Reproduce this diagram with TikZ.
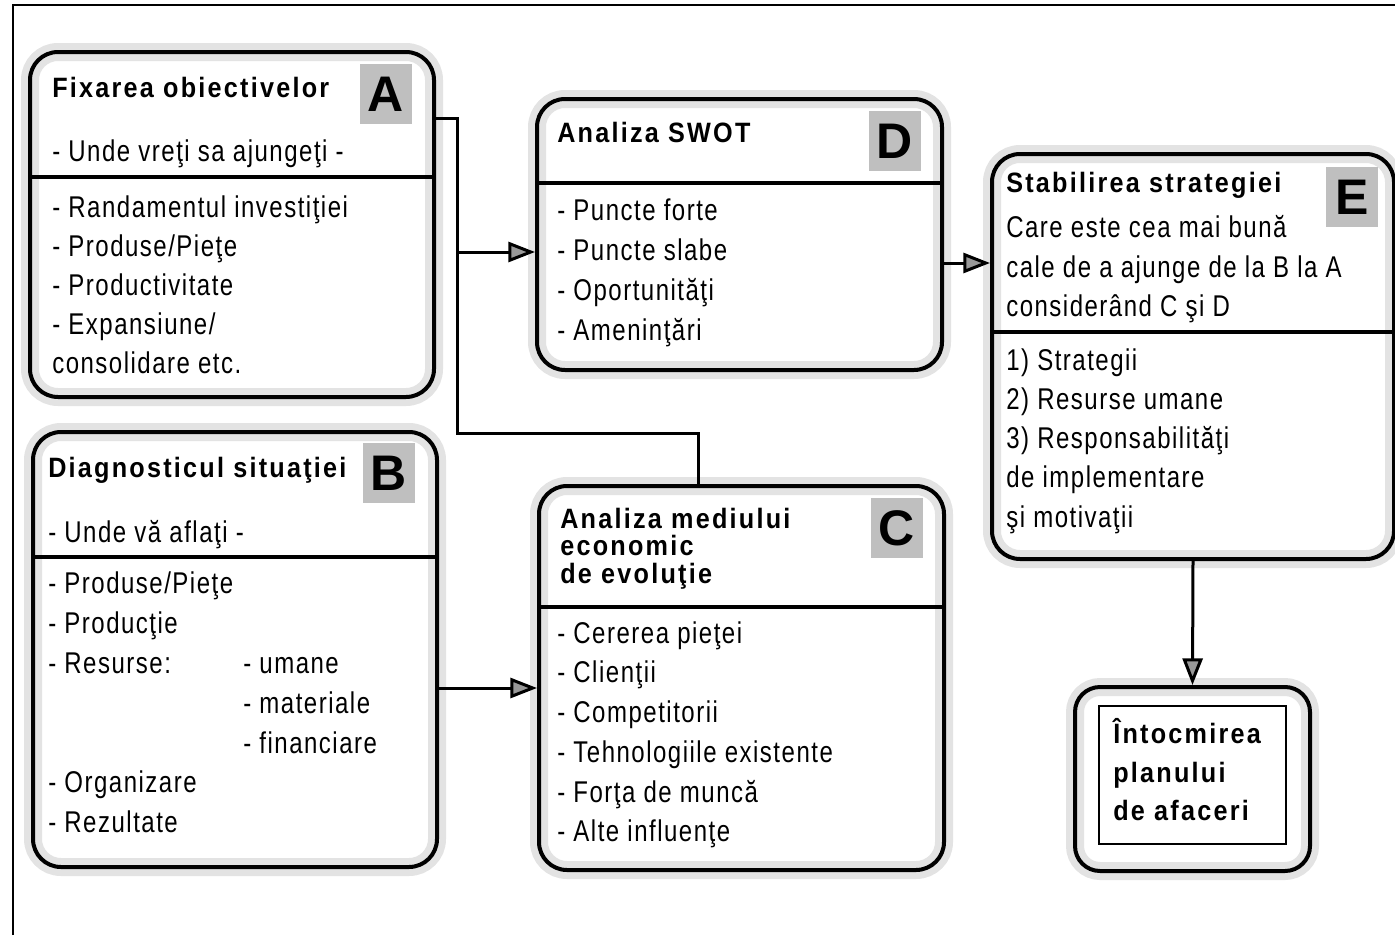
\documentclass[tikz,border=0pt]{standalone}
\usepackage{fontspec}
\setmainfont{Liberation Sans}
\newfontfamily\bodyf[LetterSpace=5,FakeStretch=0.8]{Liberation Sans}
\newfontfamily\titlef[LetterSpace=8,FakeStretch=0.9]{Liberation Sans}
\usetikzlibrary{arrows.meta}
\newcommand\pxu{0.75pt}
\tikzset{
  box/.style={draw, line width=4*\pxu, rounded corners=28*\pxu, anchor=north west, inner sep=0pt,
    preaction={draw=black!11, line width=18*\pxu}},
  tx/.style={anchor=base west, inner sep=0pt, font=\bodyf\fontsize{22.5pt}{24pt}\selectfont},
  ttl/.style={anchor=base west, inner sep=0pt, font=\titlef\bfseries\fontsize{21pt}{22pt}\selectfont},
  letterbox/.style={fill=black!25, minimum width=52*\pxu, minimum height=60*\pxu, inner sep=0pt,
    font=\bfseries\fontsize{37.5pt}{40pt}\selectfont},
  divider/.style={line width=3.5*\pxu},
  conn/.style={line width=3*\pxu},
  arr/.style={conn, -{Triangle[length=20pt, width=15pt, fill=black!40]}}
}
\begin{document}
\begin{tikzpicture}[x=0.75pt,y=-0.75pt]
\useasboundingbox (0,0) rectangle (1395,935);
% outer frame
\draw[line width=2.5*\pxu] (13,935) -- (13,5) -- (1395,5);

% boxes
\node[box, minimum width=404*\pxu, minimum height=345*\pxu] (A) at (28,50) {};
\node[box, minimum width=405*\pxu, minimum height=271*\pxu] (D) at (535,97) {};
\node[box, minimum width=402*\pxu, minimum height=405*\pxu] (E) at (990,152) {};
\node[box, minimum width=404*\pxu, minimum height=435*\pxu] (B) at (31,430) {};
\node[box, minimum width=405*\pxu, minimum height=384*\pxu] (C) at (537,484) {};
\node[box, rounded corners=25*\pxu, minimum width=235*\pxu, minimum height=184*\pxu] (F) at (1073,685) {};
\node[draw, line width=2*\pxu, minimum width=187*\pxu, minimum height=138*\pxu, anchor=north west, inner sep=0pt] (Fi) at (1098,705) {};

% dividers
\draw[divider] (A.west |- 0,177) -- (A.east |- 0,177);
\draw[divider] (D.west |- 0,183) -- (D.east |- 0,183);
\draw[divider] (E.west |- 0,332) -- (E.east |- 0,332);
\draw[divider] (B.west |- 0,557) -- (B.east |- 0,557);
\draw[divider] (C.west |- 0,607) -- (C.east |- 0,607);

% letters
\node[letterbox] (Al) at (386,94) {A};
\node[letterbox] (Bl) at (389,473) {B};
\node[letterbox] (Cl) at (897,528) {C};
\node[letterbox] (Dl) at (895,141) {D};
\node[letterbox] (El) at (1352,197) {E};

% box A
\node[ttl] (At) at (52,97) {Fixarea obiectivelor};
\node[tx] (A0) at (52,161) {- Unde vreţi sa ajungeţi -};
\node[tx] (A1) at (52,217) {- Randamentul investiţiei};
\node[tx] (A2) at (52,256) {- Produse/Pieţe};
\node[tx] (A3) at (52,295) {- Productivitate};
\node[tx] (A4) at (52,334) {- Expansiune/};
\node[tx] (A5) at (52,373) {consolidare etc.};

% box B
\node[ttl] (Bt) at (48,477) {Diagnosticul situaţiei};
\node[tx] (B0) at (48,542) {- Unde vă aflaţi -};
\node[tx] (B1) at (48,593) {- Produse/Pieţe};
\node[tx] (B2) at (48,633) {- Producţie};
\node[tx] (B3) at (48,673) {- Resurse:};
\node[tx] (B3r) at (243,673) {- umane};
\node[tx] (B4) at (243,713) {- materiale};
\node[tx] (B5) at (243,753) {- financiare};
\node[tx] (B6) at (48,792) {- Organizare};
\node[tx] (B7) at (48,832) {- Rezultate};

% box D
\node[ttl] (Dt) at (557,142) {Analiza SWOT};
\node[tx] (D1) at (557,220) {- Puncte forte};
\node[tx] (D2) at (557,260) {- Puncte slabe};
\node[tx] (D3) at (557,300) {- Oportunităţi};
\node[tx] (D4) at (557,340) {- Ameninţări};

% box C
\node[ttl] (Ct1) at (560,528) {Analiza mediului};
\node[ttl] (Ct2) at (560,555) {economic};
\node[ttl] (Ct3) at (560,583) {de evoluţie};
\node[tx] (C1) at (557,643) {- Cererea pieţei};
\node[tx] (C2) at (557,682) {- Clienţii};
\node[tx] (C3) at (557,722) {- Competitorii};
\node[tx] (C4) at (557,762) {- Tehnologiile existente};
\node[tx] (C5) at (557,802) {- Forţa de muncă};
\node[tx] (C6) at (557,841) {- Alte influenţe};

% box E
\node[ttl] (Et) at (1006,192) {Stabilirea strategiei};
\node[tx] (E1) at (1006,237) {Care este cea mai bună};
\node[tx] (E2) at (1006,277) {cale de a ajunge de la B la A};
\node[tx] (E3) at (1006,316) {considerând C şi D};
\node[tx] (E4) at (1006,370) {1) Strategii};
\node[tx] (E5) at (1006,409) {2) Resurse umane};
\node[tx] (E6) at (1006,448) {3) Responsabilităţi};
\node[tx] (E7) at (1006,487) {de implementare};
\node[tx] (E8) at (1006,527) {şi motivaţii};

% box F
\node[ttl] (F1) at (1113,743) {Întocmirea};
\node[ttl] (F2) at (1113,782) {planului};
\node[ttl] (F3) at (1113,820) {de afaceri};

% connectors
\coordinate (j1) at (457,118);
\coordinate (j2) at (457,252);
\coordinate (j3) at (457,433);
\coordinate (j4) at (698,433);
\draw[conn] (A.east |- j1) -- (j1) -- (j3) -- (j4) -- (C.north -| j4);
\draw[arr] (j2) -- (D.west |- j2);
\draw[arr] (D.east |- 0,263) -- (E.west |- 0,263);
\draw[arr] (B.east |- 0,688) -- (C.west |- 0,688);
\draw[arr] (E.south) -- (F.north);
\end{tikzpicture}
\end{document}
